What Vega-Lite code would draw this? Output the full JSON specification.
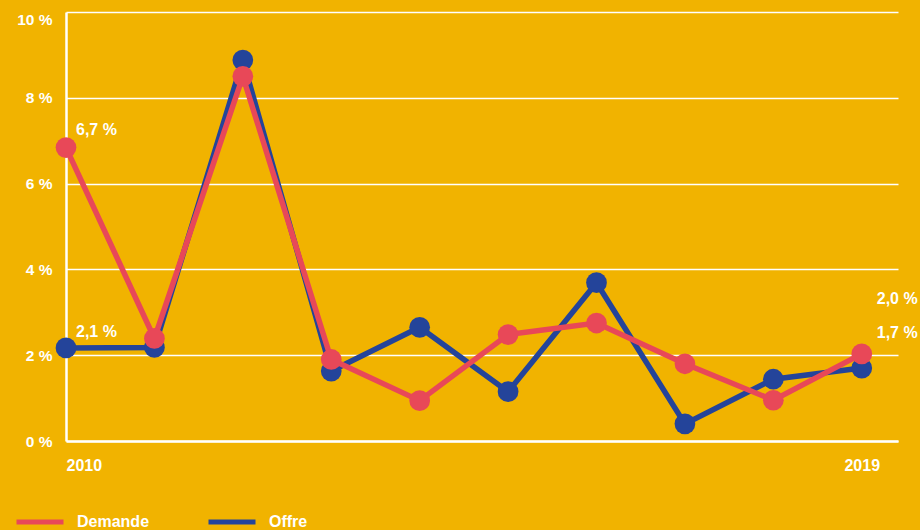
{
  "$schema": "https://vega.github.io/schema/vega-lite/v6.json",
  "width": 832,
  "height": 429,
  "autosize": {"type": "none"},
  "padding": {"left": 66, "top": 12, "right": 22, "bottom": 89},
  "background": "#F1B300",
  "config": {
    "view": {"stroke": null},
    "font": "Liberation Sans",
    "axis": {
      "labelColor": "white",
      "labelFont": "Liberation Sans",
      "labelFontSize": 15.5,
      "labelFontWeight": "bold",
      "ticks": false,
      "title": null,
      "domainColor": "white",
      "domainWidth": 2.5,
      "gridColor": "white",
      "gridWidth": 1.5,
      "gridOpacity": 1
    }
  },
  "data": {
    "values": [
      {"year": 2010, "series": "Offre", "value": 2.17, "label": "2,1 %"},
      {"year": 2011, "series": "Offre", "value": 2.18},
      {"year": 2012, "series": "Offre", "value": 8.88},
      {"year": 2013, "series": "Offre", "value": 1.63},
      {"year": 2014, "series": "Offre", "value": 2.65},
      {"year": 2015, "series": "Offre", "value": 1.15},
      {"year": 2016, "series": "Offre", "value": 3.69},
      {"year": 2017, "series": "Offre", "value": 0.4},
      {"year": 2018, "series": "Offre", "value": 1.44},
      {"year": 2019, "series": "Offre", "value": 1.7, "label": "1,7 %"},
      {"year": 2010, "series": "Demande", "value": 6.84, "label": "6,7 %"},
      {"year": 2011, "series": "Demande", "value": 2.39},
      {"year": 2012, "series": "Demande", "value": 8.5},
      {"year": 2013, "series": "Demande", "value": 1.9},
      {"year": 2014, "series": "Demande", "value": 0.94},
      {"year": 2015, "series": "Demande", "value": 2.48},
      {"year": 2016, "series": "Demande", "value": 2.75},
      {"year": 2017, "series": "Demande", "value": 1.8},
      {"year": 2018, "series": "Demande", "value": 0.95},
      {"year": 2019, "series": "Demande", "value": 2.03, "label": "2,0 %"}
    ]
  },
  "encoding": {
    "x": {
      "field": "year",
      "type": "quantitative",
      "scale": {"domain": [2010, 2019.41], "nice": false, "zero": false},
      "axis": {"values": [2010, 2019], "format": "d", "grid": false, "labelPadding": 16, "labelFlush": true, "labelFontSize": 16}
    },
    "y": {
      "field": "value",
      "type": "quantitative",
      "scale": {"domain": [0, 10], "nice": false},
      "axis": {
        "values": [0, 2, 4, 6, 8, 10],
        "labelExpr": "datum.value + ' %'",
        "grid": true,
        "labelPadding": 14,
        "labelBaseline": {"condition": {"test": "datum.value === 10", "value": "top"}, "value": "middle"}
      }
    },
    "color": {
      "field": "series",
      "type": "nominal",
      "scale": {"domain": ["Demande", "Offre"], "range": ["#E84858", "#24449A"]},
      "legend": {
        "orient": "none",
        "legendX": -52,
        "legendY": 484,
        "direction": "horizontal",
        "title": null,
        "symbolType": "stroke",
        "symbolSize": 2209,
        "symbolStrokeWidth": 5,
        "labelColor": "white",
        "labelFont": "Liberation Sans",
        "labelFontSize": 16,
        "labelFontWeight": "bold",
        "labelOffset": 11,
        "columnPadding": 48
      }
    }
  },
  "layer": [
    {"transform": [{"filter": "datum.series === 'Offre'"}], "mark": {"type": "line", "strokeWidth": 5.5}},
    {"transform": [{"filter": "datum.series === 'Offre'"}], "mark": {"type": "circle", "size": 430, "opacity": 1}},
    {"transform": [{"filter": "datum.series === 'Demande'"}], "mark": {"type": "line", "strokeWidth": 5.5}},
    {"transform": [{"filter": "datum.series === 'Demande'"}], "mark": {"type": "circle", "size": 430, "opacity": 1}},
    {
      "transform": [{"filter": "datum.year === 2010 && datum.series === 'Demande'"}],
      "mark": {"type": "text", "align": "left", "dx": 10, "dy": -18, "fontSize": 16, "fontWeight": "bold", "font": "Liberation Sans"},
      "encoding": {"text": {"field": "label"}, "color": {"value": "white"}}
    },
    {
      "transform": [{"filter": "datum.year === 2010 && datum.series === 'Offre'"}],
      "mark": {"type": "text", "align": "left", "dx": 10, "dy": -16, "fontSize": 16, "fontWeight": "bold", "font": "Liberation Sans"},
      "encoding": {"text": {"field": "label"}, "color": {"value": "white"}}
    },
    {
      "transform": [{"filter": "datum.year === 2019 && datum.series === 'Demande'"}],
      "mark": {"type": "text", "align": "left", "dx": 15, "dy": -55, "fontSize": 16, "fontWeight": "bold", "font": "Liberation Sans"},
      "encoding": {"text": {"field": "label"}, "color": {"value": "white"}}
    },
    {
      "transform": [{"filter": "datum.year === 2019 && datum.series === 'Offre'"}],
      "mark": {"type": "text", "align": "left", "dx": 15, "dy": -35, "fontSize": 16, "fontWeight": "bold", "font": "Liberation Sans"},
      "encoding": {"text": {"field": "label"}, "color": {"value": "white"}}
    }
  ]
}
